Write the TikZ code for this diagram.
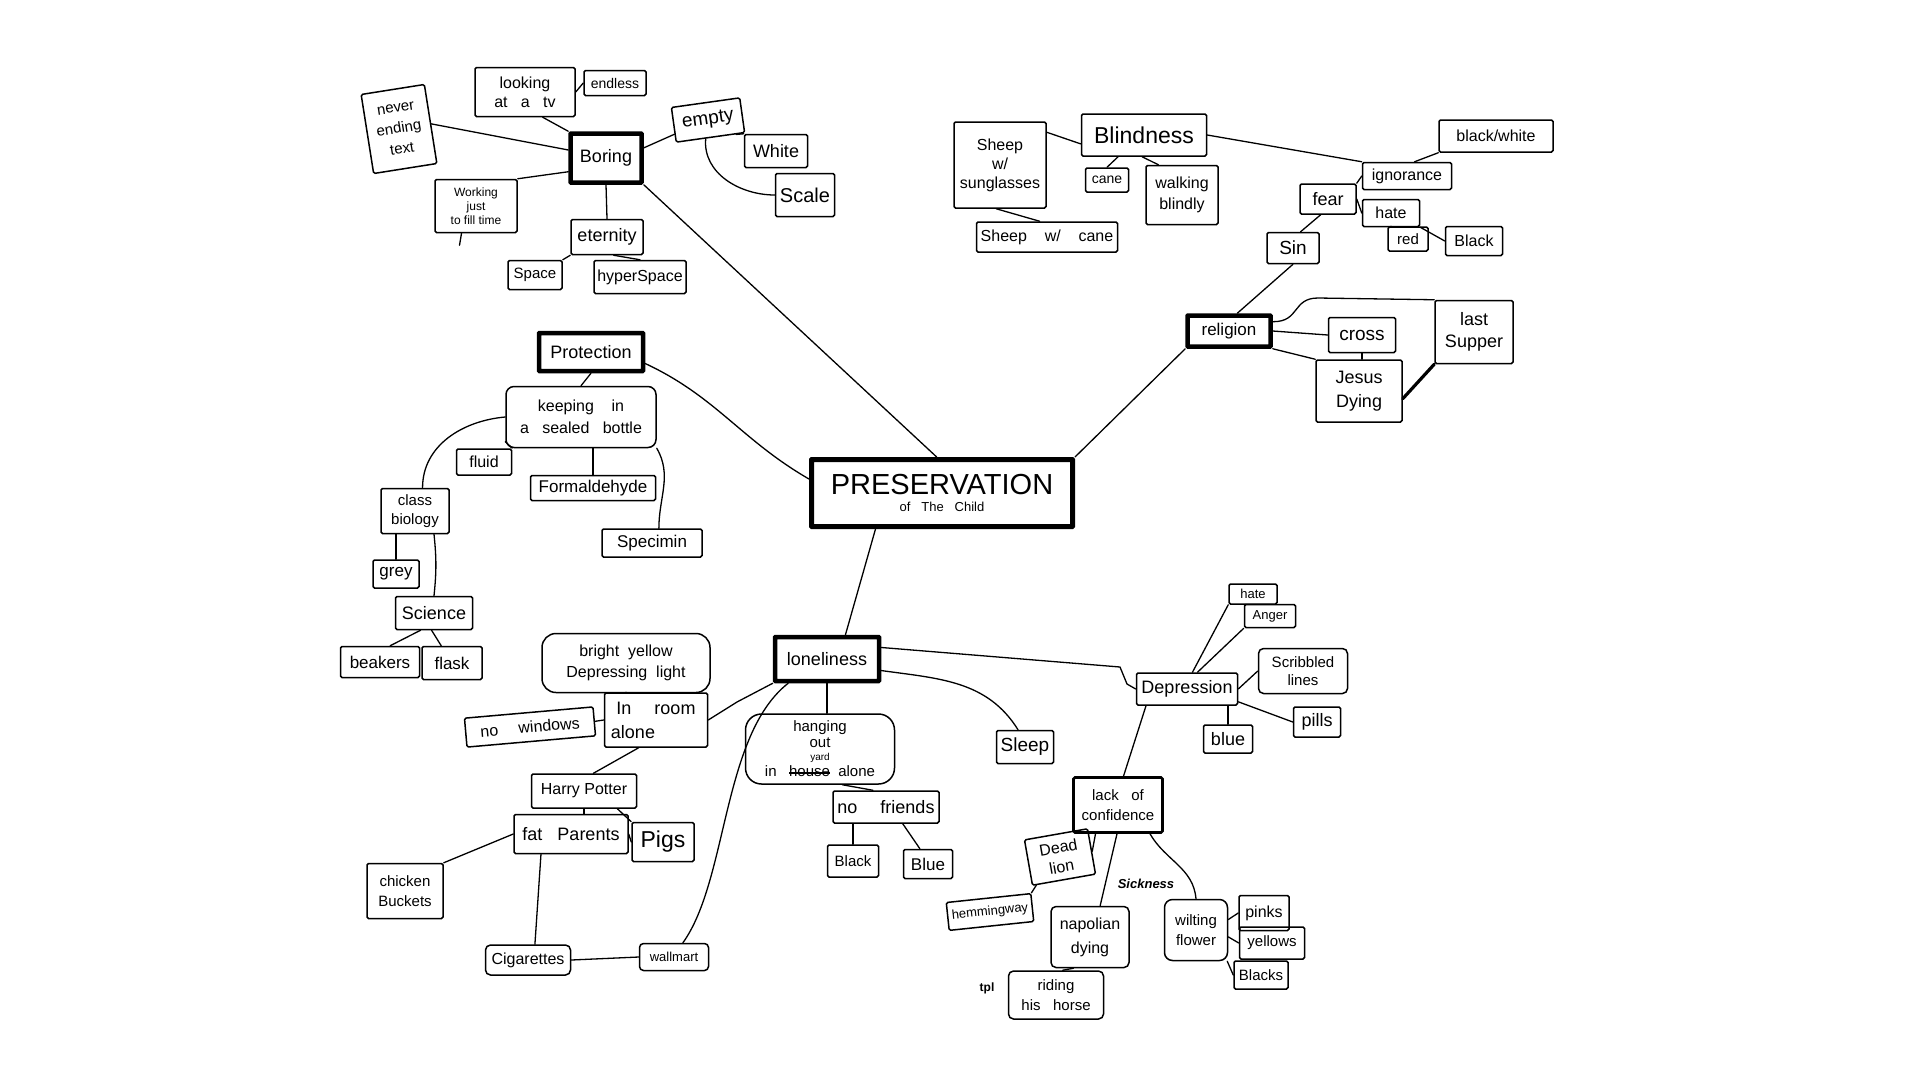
\documentclass[tikz,border=0pt]{standalone}
\usepackage{fontspec}
\setmainfont{Liberation Sans}
\usetikzlibrary{calc}
\newcommand\mystrike[1]{\setbox0\hbox{#1}\rlap{\rule[0.3ex]{\wd0}{2.5pt}}\box0}
\tikzset{
  fs/.style 2 args={font=\fontsize{#1}{#2}\selectfont},
  bx/.style={draw, line width=1.5pt, inner sep=1pt, align=center, rounded corners=1.5pt, fs={14}{16}},
  hub/.style={bx, line width=4.5pt, rounded corners=0.5pt},
  wh/.style 2 args={minimum width=#1pt, minimum height=#2pt},
  lk/.style={line width=1.3pt, line cap=round, line join=round},
  scrib/.style={font=\fontsize{13}{13}\selectfont\bfseries\itshape, inner sep=0pt}
}
\begin{document}
\begin{tikzpicture}[x=1pt, y=-1pt]
\fill[white] (0,0) rectangle (1920,1080);
\useasboundingbox (0,0) rectangle (1920,1080);

% ---------- centre ----------
\node[hub, line width=5pt, wh={261}{67}] (pres) at (942,493)
  {{\fontsize{29}{31}\selectfont PRESERVATION}\\[1pt]{\fontsize{13}{14}\selectfont of \ \ The \ \ Child}};

% ---------- Boring cluster ----------
\node[hub, wh={71}{49}, fs={18}{20}] (boring) at (606,158) {Boring};
\node[bx, wh={100}{49}, fs={16}{19}] (tv) at (525,92) {looking\\at \ \ a \ \ tv};
\node[bx, wh={62}{25}, fs={14}{16}] (endless) at (615,83) {endless};
\node[bx, wh={64}{80}, rotate=9, fs={15}{21}] (never) at (399,129) {never\\ending\\text};
\node[bx, wh={82}{53}, fs={12}{14}] (working) at (476,206) {Working\\just\\to fill time};
\node[bx, wh={72}{35}, fs={18}{20}] (eternity) at (607,237) {eternity};
\node[bx, wh={54}{29}, fs={15}{17}] (space) at (535,275) {Space};
\node[bx, wh={92}{33}, fs={16}{18}] (hyper) at (640,277) {hyperSpace};
\node[bx, wh={69}{35}, rotate=8, fs={19}{21}] (empty) at (708,120) {empty};
\node[bx, wh={63}{33}, fs={18}{20}] (white) at (776,151) {White};
\node[bx, wh={59}{43}, fs={20}{22}] (scale) at (805,195) {Scale};

\draw[lk] (tv.-55) -- (boring.north west);
\draw[lk] (tv.east) -- (endless.west);
\draw[lk] (never.east) -- (boring.168);
\draw[lk] (working.north east) -- (boring.200);
\draw[lk] (working.-118) -- ++(-2,12);
\draw[lk] (boring.south) -- (eternity.north);
\draw[lk] (eternity.south west) -- (space.north east);
\draw[lk] (eternity.-70) -- (hyper.north);
\draw[lk] (boring.15) -- (empty.195);
\draw[lk] (empty.-35) -- (white.north west);
\draw[lk] (empty.-105) to[out=-95,in=180] (scale.west);
\draw[lk] (boring.south east) -- ($(pres.north west)!0.48!(pres.north east)$);

% ---------- Blindness / religion cluster ----------
\node[bx, wh={125}{42}, fs={23}{25}] (blind) at (1144,135) {Blindness};
\node[bx, wh={92}{86}, fs={16}{19}] (sheep) at (1000,165) {Sheep\\w/\\sunglasses};
\node[bx, wh={141}{30}, fs={16}{18}] (sheepcane) at (1047,237) {Sheep \ \ \ w/ \ \ \ cane};
\node[bx, wh={43}{24}, fs={14}{16}] (cane) at (1107,180) {cane};
\node[bx, wh={72}{59}, fs={16}{21}] (walking) at (1182,195) {walking\\blindly};
\node[bx, wh={89}{27}, fs={16}{18}] (ignor) at (1407,176) {ignorance};
\node[bx, wh={114}{32}, fs={16}{18}] (bw) at (1496,136) {black/white};
\node[bx, wh={56}{30}, fs={18}{20}] (fear) at (1328,199) {fear};
\node[bx, wh={57}{27}, fs={16}{18}] (hateA) at (1391,213) {hate};
\node[bx, wh={40}{24}, fs={15}{17}] (red) at (1408,239) {red};
\node[bx, wh={57}{29}, fs={16}{18}] (blackA) at (1474,241) {Black};
\node[bx, wh={52}{31}, fs={19}{21}] (sin) at (1293,248) {Sin};
\node[hub, wh={83}{31}, fs={17}{19}] (religion) at (1229,331) {religion};
\node[bx, wh={67}{35}, fs={19}{21}] (cross) at (1362,335) {cross};
\node[bx, wh={78}{63}, fs={18}{22}] (supper) at (1474,332) {last\\Supper};
\node[bx, wh={86}{62}, fs={18}{24}] (jesus) at (1359,391) {Jesus\\Dying};

\draw[lk] (sheep.35) -- (blind.188);
\draw[lk] (blind.-140) -- (cane.north);
\draw[lk] (blind.-95) -- (walking.128);
\draw[lk] (sheep.-95) -- (sheepcane.115);
\draw[lk] (blind.east) -- (ignor.north west);
\draw[lk] (ignor.62) -- (bw.south west);
\draw[lk] (fear.north east) -- (ignor.west);
\draw[lk] (fear.-115) -- (sin.65);
\draw[lk] (fear.east) -- (hateA.west);
\draw[lk] (hateA.south) -- (hateA.south |- red.north);
\draw[lk] (hateA.south east) -- (blackA.west);
\draw[lk] (religion.65) -- (sin.south);
\draw[lk] (religion.east) -- (cross.west);
\draw[lk] (religion.south east) -- (jesus.north west);
\draw[lk] (cross.south) -- (cross.south |- jesus.north);
\draw[lk] (religion.12) .. controls (1300,322) and (1292,298) .. (1318,298) -- (supper.north west);
\draw[line width=3.2pt, line cap=round] (jesus.-10) -- (supper.south west);
\draw[lk] (religion.south west) -- (pres.north east);

% ---------- Protection cluster ----------
\node[hub, wh={104}{38}, fs={18}{20}] (prot) at (591,352) {Protection};
\node[bx, wh={150}{61}, rounded corners=8pt, fs={16}{22}] (keep) at (581,417) {keeping \ \ \ in\\a \ \ sealed \ \ bottle};
\node[bx, wh={55}{26}, fs={16}{18}] (fluid) at (484,462) {fluid};
\node[bx, wh={125}{25}, fs={17}{19}] (form) at (593,488) {Formaldehyde};
\node[bx, wh={100}{28}, fs={17}{19}] (spec) at (652,543) {Specimin};
\node[bx, wh={68}{45}, fs={15}{19}] (class) at (415,511) {class\\biology};
\node[bx, wh={46}{28}, fs={17}{19}] (grey) at (396,574) {grey};
\node[bx, wh={77}{33}, fs={18}{20}] (sci) at (434,613) {Science};
\node[bx, wh={79}{31}, fs={17}{19}] (beak) at (380,662) {beakers};
\node[bx, wh={60}{33}, fs={17}{19}] (flask) at (452,663) {flask};

\draw[lk] (prot.south) -- (keep.north);
\draw[lk] (keep.-162) -- (fluid.north east);
\draw[lk] (form.north) -- (form.north |- keep.south);
\draw[lk] (keep.south east) to[out=-60,in=90] (spec.65);
\draw[lk] (keep.west) to[out=185,in=90] (class.72);
\draw[lk] (grey.north |- class.south) -- (grey.north);
\draw[lk] (sci.north |- class.south) to[bend left=6] (sci.north);
\draw[lk] (sci.-128) -- (beak.58);
\draw[lk] (sci.-98) -- (flask.122);
\draw[lk] (prot.-12) to[out=-25,in=150] (pres.174);

% ---------- loneliness cluster ----------
\node[hub, wh={104}{44}, fs={18}{20}] (lonely) at (827,659) {loneliness};
\node[bx, wh={168}{59}, rounded corners=14pt, fs={16}{21}] (bright) at (626,663) {bright \ yellow\\Depressing \ light};
\node[bx, wh={103}{54}, fs={18}{24}] (room) at (656,720) {In \quad room\\alone \qquad\ \ };
\node[bx, wh={129}{29}, rotate=5, fs={16}{18}] (nowin) at (530,727) {no \quad windows};
\node[bx, wh={105}{34}, fs={16}{18}] (harry) at (584,791) {Harry Potter};
\node[bx, wh={114}{39}, fs={18}{20}] (fat) at (571,834) {fat \ \ Parents};
\node[bx, wh={62}{39}, fs={23}{25}] (pigs) at (663,842) {Pigs};
\node[bx, wh={76}{55}, fs={15}{20}] (chicken) at (405,891) {chicken\\Buckets};
\node[bx, wh={85}{30}, rounded corners=5pt, fs={16}{18}] (cig) at (528,960) {Cigarettes};
\node[bx, wh={69}{27}, rounded corners=4pt, fs={13}{15}] (wall) at (674,957) {wallmart};
\node[bx, wh={149}{70}, rounded corners=16pt, fs={15}{16}] (hang) at (820,749)
  {hanging\\out\\[-3pt]{\fontsize{10}{10}\selectfont yard}\\in \ \ \mystrike{house} \ \ alone};
\node[bx, wh={106}{32}, fs={18}{20}] (nof) at (886,807) {no \quad friends};
\node[bx, wh={51}{32}, fs={15}{17}] (blackB) at (853,861) {Black};
\node[bx, wh={49}{29}, fs={17}{19}] (blueB) at (928,864) {Blue};
\node[bx, wh={57}{33}, fs={19}{21}] (sleep) at (1025,747) {Sleep};

\draw[lk] ($(lonely.north west)!0.67!(lonely.north east)$) -- ($(pres.south west)!0.25!(pres.south east)$);
\draw[lk] (lonely.south west) -- (737,702) -- (room.east);
\draw[lk] (bright.south) -- (bright.south |- room.north);
\draw[lk] (nowin.east) -- (room.west);
\draw[lk] (room.-122) -- (harry.62);
\draw[lk] (harry.south) -- (harry.south |- fat.north);
\draw[lk] (harry.-28) -- (pigs.north west);
\draw[lk] (fat.east) -- (pigs.west);
\draw[lk] (fat.west) -- (chicken.north east);
\draw[lk] ($(fat.south west)!0.24!(fat.south east)$) -- ($(cig.north west)!0.58!(cig.north east)$);
\draw[lk] (cig.east) -- (wall.west);
\draw[lk] (wall.58) .. controls (728,880) and (722,735) .. (lonely.-148);
\draw[lk] (lonely.south) -- (lonely.south |- hang.north);
\draw[lk] (hang.-58) -- (nof.128);
\draw[lk] (blackB.north |- nof.south) -- (blackB.north);
\draw[lk] (nof.-45) -- (blueB.118);
\draw[lk] (lonely.-12) to[out=-8,in=122] (sleep.112);

% ---------- Depression cluster ----------
\node[bx, wh={101}{32}, fs={18}{20}] (dep) at (1187,689) {Depression};
\node[bx, wh={48}{20}, fs={13}{15}] (hateB) at (1253,594) {hate};
\node[bx, wh={51}{23}, fs={13}{15}] (anger) at (1270,616) {Anger};
\node[bx, wh={89}{45}, rounded corners=5pt, fs={15}{18}] (scribbled) at (1303,671) {Scribbled\\lines};
\node[bx, wh={47}{30}, fs={18}{20}] (pills) at (1317,722) {pills};
\node[bx, wh={49}{28}, fs={18}{20}] (blueC) at (1228,739) {blue};
\node[bx, line width=2.6pt, wh={89}{55}, fs={15}{20}] (lack) at (1118,805) {lack \ \ of\\confidence};
\node[bx, wh={64}{46}, rotate=10, fs={16}{20}] (lion) at (1060,857) {Dead\\lion};
\node[bx, wh={85}{28}, rotate=6, fs={13}{15}] (hem) at (990,912) {hemmingway};
\node[bx, wh={78}{61}, rounded corners=5pt, fs={16}{24}] (nap) at (1090,937) {napolian\\dying};
\node[bx, wh={95}{48}, rounded corners=5pt, fs={15}{20}] (ride) at (1056,995) {riding\\his \ \ horse};
\node[bx, wh={63}{61}, rounded corners=8pt, fs={15}{20}] (wilt) at (1196,930) {wilting\\flower};
\node[bx, wh={50}{35}, fs={16}{18}] (pinks) at (1264,913) {pinks};
\node[bx, wh={65}{32}, fs={15}{17}] (yellows) at (1272,943) {yellows};
\node[bx, wh={54}{28}, fs={15}{17}] (blacks) at (1261,975) {Blacks};
\node[scrib] (sick) at (1146,884) {Sickness};
\node[scrib, font=\fontsize{12}{12}\selectfont\bfseries] (tpl) at (987,988) {tpl};

\draw[lk] (lonely.12) -- (1120,667) -- (1127,684) -- (dep.west);
\draw[lk] (dep.72) -- (hateB.south west);
\draw[lk] (dep.58) -- (anger.south west);
\draw[lk] (dep.east) -- (scribbled.west);
\draw[lk] (dep.-14) -- (pills.west);
\draw[lk] (blueC.north |- dep.south) -- (blueC.north);
\draw[lk] ($(dep.south west)!0.1!(dep.south east)$) -- ($(lack.north west)!0.56!(lack.north east)$);
\draw[lk] (lack.-128) -- (lion.east);
\draw[lk] (lack.-92) -- (nap.72);
\draw[lk] (lack.-42) to[out=-60,in=95] (wilt.north);
\draw[lk] (lion.-140) -- (hem.north east);
\draw[lk] (nap.-118) -- (ride.75);
\draw[lk] (wilt.18) -- (pinks.west);
\draw[lk] (wilt.-12) -- (yellows.west);
\draw[lk] (wilt.-45) -- (blacks.west);
\end{tikzpicture}
\end{document}
